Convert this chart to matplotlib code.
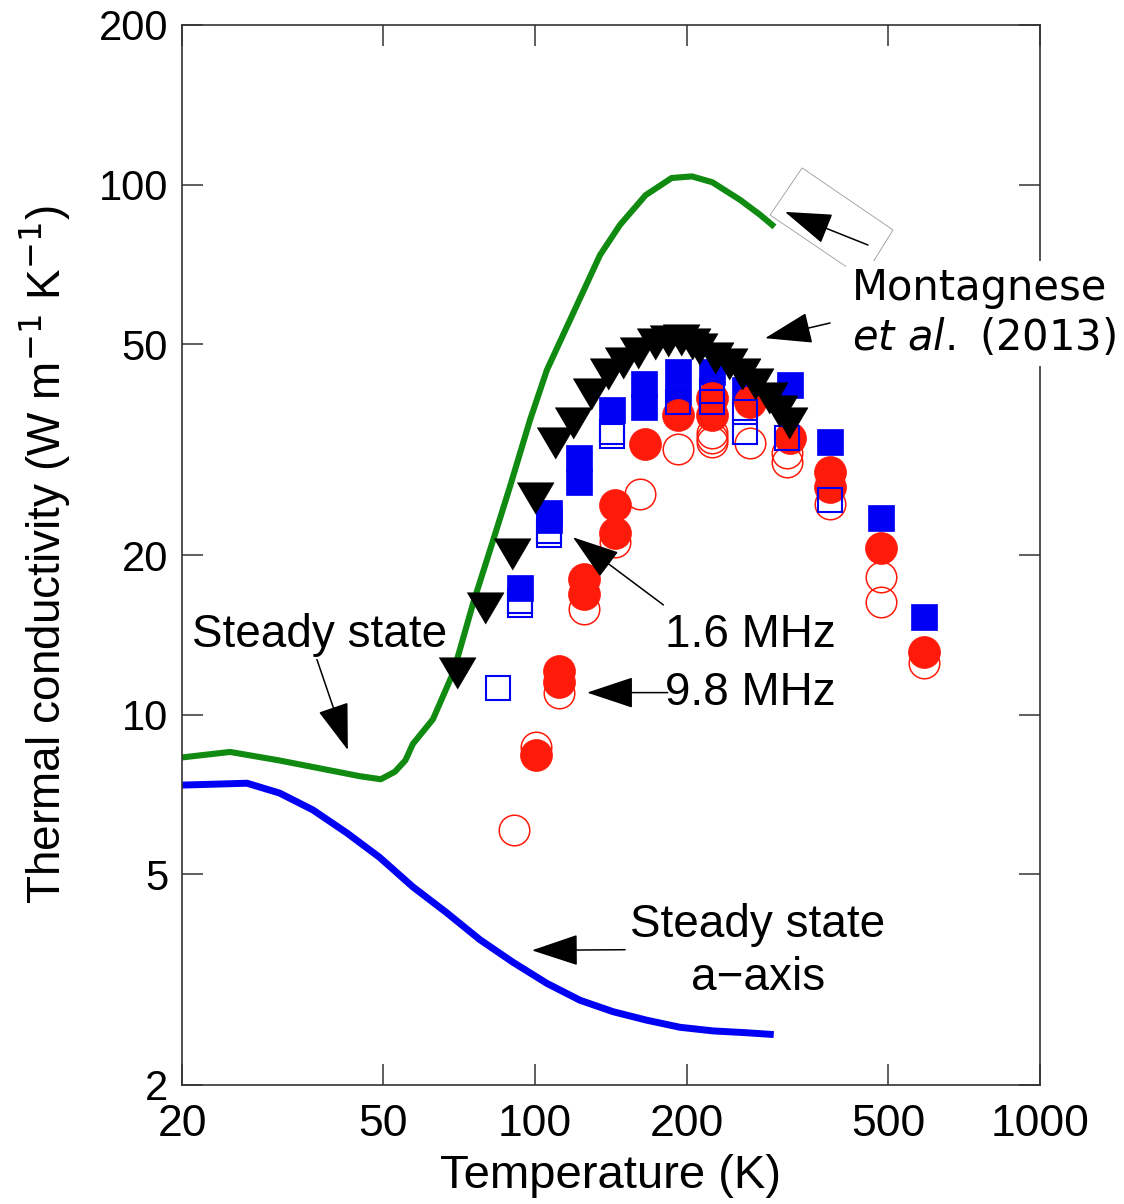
import matplotlib
matplotlib.use("Agg")
import matplotlib.pyplot as plt
from matplotlib.patches import Polygon
from matplotlib.ticker import FixedLocator, NullLocator, FixedFormatter

plt.rcParams["font.family"] = ["Liberation Sans", "DejaVu Sans"]

# ---------------------------------------------------------------
# DATA
# ---------------------------------------------------------------
# steady state, c-axis (green)
T_c = [20, 24.9, 31, 39.2, 45, 49.5, 52.8, 55.4, 57.3, 62.8, 68.9, 75.4, 82.6,
       89.2, 97.8, 105.6, 117.3, 134.5, 147.3, 165.6, 186.5, 204.6, 224.5, 255,
       279, 298]
k_c = [8.3, 8.5, 8.2, 7.85, 7.65, 7.55, 7.8, 8.2, 8.8, 9.8, 12.0, 16.2, 21.3,
       26.9, 36.0, 44.7, 55.5, 73.6, 83.9, 95.5, 102.9, 103.6, 101, 93.5,
       87.7, 83.2]

# steady state, a-axis (blue)
T_a = [20, 26.9, 31.2, 36.3, 42.4, 49.2, 57.3, 66.8, 77.8, 90.4, 105.6, 122.8,
       142.8, 166.5, 193.7, 225, 262, 297]
k_a = [7.36, 7.42, 7.11, 6.61, 5.98, 5.38, 4.73, 4.23, 3.76, 3.41, 3.11, 2.89,
       2.75, 2.65, 2.57, 2.53, 2.51, 2.49]

# Montagnese et al. (2013)
T_m = [70.0, 79.6, 90.1, 100, 109.5, 119, 129, 139.5, 149.5, 160.2, 172.9, 183.7,
       194.6, 204.6, 211.3, 227.2, 242.2, 257, 272.7, 290.7, 304.3, 318.5]
k_m = [12.0, 15.9, 20.1, 25.6, 32.5, 35.5, 40.3, 43.9, 46.0, 48.1, 50.0, 50.6,
       50.9, 50.0, 49.0, 47.0, 45.8, 43.9, 42.0, 39.5, 37.4, 35.5]

# 1.6 MHz, filled squares
T_bf = [93.4, 106.6, 106.6, 122.2, 122.2, 142, 164.4, 164.4, 191.9, 191.9,
        224.2, 260.6, 320, 384, 484, 589]
k_bf = [17.3, 24.0, 23.3, 30.5, 27.5, 37.6, 42.0, 38.0, 44.3, 39.6,
        44.3, 41.0, 41.9, 32.7, 23.5, 15.3]

# 1.6 MHz, open squares
T_bo = [84.5, 93.4, 93.4, 106.6, 106.6, 142, 142, 191.9, 224.2, 224.2,
        260.6, 260.6, 315, 384]
k_bo = [11.2, 16.4, 16.1, 22.2, 21.8, 34.2, 33.6, 38.8, 40.7, 38.8,
        37.3, 34.2, 33.3, 25.4]

# 9.8 MHz, filled circles
T_rf = [100.4, 111.6, 111.6, 125, 125, 143.9, 143.9, 165.2, 191.9, 224.5,
        224.5, 266.6, 320, 384, 384, 484, 589]
k_rf = [8.4, 12.1, 11.5, 18.0, 16.9, 24.9, 22.0, 32.4, 36.7, 39.6,
        36.7, 38.8, 33.2, 28.7, 26.9, 20.6, 13.1]

# 9.8 MHz, open circles
T_ro = [90.9, 100.4, 111.6, 125, 143.9, 161.4, 191.9, 224.5, 224.5, 224.5,
        266.6, 315, 315, 384, 484, 484, 589]
k_ro = [6.06, 8.7, 11.0, 15.8, 21.2, 26.1, 31.7, 34.0, 33.3, 32.7,
        32.5, 31.1, 29.9, 25.0, 18.2, 16.3, 12.5]

X_TICKS = [20, 50, 100, 200, 500, 1000]
Y_TICKS = [2, 5, 10, 20, 50, 100, 200]

GREEN = "#108a10"
BLUE = "#0000f5"
RED = "#ff1a0a"

# ---------------------------------------------------------------
# FIGURE
# ---------------------------------------------------------------
W, H = 1124, 1204
fig = plt.figure(figsize=(W / 100, H / 100), dpi=100)
ax = fig.add_axes([182 / W, 1 - 1085 / H, (1040 - 182) / W, (1085 - 25) / H])
ax.set_xscale("log")
ax.set_yscale("log")
ax.set_xlim(20, 1000)
ax.set_ylim(2, 200)

ax.plot(T_c, k_c, color=GREEN, lw=4.4, solid_capstyle="butt",
        solid_joinstyle="round", zorder=2)
ax.plot(T_a, k_a, color=BLUE, lw=5.0, solid_capstyle="butt",
        solid_joinstyle="round", zorder=2)

ax.plot(T_bf, k_bf, "s", ms=19, mfc=BLUE, mec=BLUE, mew=0.5, ls="none", zorder=3)
ax.plot(T_rf, k_rf, "o", ms=23, mfc=RED, mec=RED, mew=0.5, ls="none", zorder=4)
ax.plot(T_ro, k_ro, "o", ms=22, mfc="none", mec=RED, mew=1.1, ls="none", zorder=5)
ax.plot(T_bo, k_bo, "s", ms=17, mfc="none", mec=BLUE, mew=1.5, ls="none", zorder=6)

tri = [(-1, 0.85), (1, 0.85), (0, -0.85)]
ax.plot(T_m, k_m, marker=tri, ms=26.5, mfc="black", mec="black", mew=0.5,
        ls="none", zorder=7)

# axes styling
ax.xaxis.set_major_locator(FixedLocator(X_TICKS))
ax.xaxis.set_major_formatter(FixedFormatter([str(v) for v in X_TICKS]))
ax.yaxis.set_major_locator(FixedLocator(Y_TICKS))
ax.yaxis.set_major_formatter(FixedFormatter([str(v) for v in Y_TICKS]))
ax.xaxis.set_minor_locator(NullLocator())
ax.yaxis.set_minor_locator(NullLocator())
ax.tick_params(axis="both", which="major", direction="in", length=15, width=1.1,
               color="#333333", top=True, right=True)
ax.tick_params(axis="x", labelsize=32, pad=14)
ax.tick_params(axis="y", labelsize=30, pad=10)
for sp in ax.spines.values():
    sp.set_linewidth(1.2)
    sp.set_color("#333333")

ax.set_xlabel("Temperature (K)", fontsize=34, labelpad=6)
ax.set_ylabel("Thermal conductivity (W m$^{-1}$ K$^{-1}$)", fontsize=33)
ax.yaxis.set_label_coords(-0.127, 0.5)

# ---------------------------------------------------------------
# ANNOTATIONS
# ---------------------------------------------------------------
arrow = dict(arrowstyle="-|>,head_length=1.5,head_width=0.5", mutation_scale=20,
             lw=1.1, color="black", shrinkA=0, shrinkB=0)

ax.text(37.5, 14.1, "Steady state", fontsize=33, ha="center", va="center", zorder=9)
ax.annotate("", xy=(42.6, 8.57), xytext=(37.0, 12.7), arrowprops=arrow, zorder=9)

ax.text(180.9, 14.1, "1.6 MHz", fontsize=33, ha="left", va="center", zorder=9)
ax.annotate("", xy=(118.9, 21.6), xytext=(179.6, 16.1), arrowprops=arrow, zorder=9)

ax.text(180.9, 11.0, "9.8 MHz", fontsize=33, ha="left", va="center", zorder=9)
ax.annotate("", xy=(126.8, 11.0), xytext=(183.2, 11.0), arrowprops=arrow, zorder=9)

ax.text(276.4, 4.01, "Steady state", fontsize=33, ha="center", va="center", zorder=9)
ax.text(276.4, 3.18, "a\u2212axis", fontsize=33, ha="center", va="center", zorder=9)
ax.annotate("", xy=(98.6, 3.59), xytext=(150.8, 3.6), arrowprops=arrow, zorder=9)

# pasted box around the upper Montagnese arrow
box = Polygon([(338, 107.5), (511.6, 82.1), (446.3, 66.6), (292.1, 87.6)],
              closed=True, fc="white", ec="#9a9a9a", lw=0.6, zorder=8, clip_on=False)
ax.add_patch(box)
ax.annotate("", xy=(312.6, 88.8), xytext=(456.4, 76.9), arrowprops=arrow,
            zorder=9, annotation_clip=False)
ax.annotate("", xy=(285.5, 51.3), xytext=(384, 54.8), arrowprops=arrow, zorder=9)

ax.text(424.4, 57.2, "Montagnese\n$\\it{et\\ al.}$ (2013)", family="DejaVu Sans",
        fontsize=30, ha="left", va="center", linespacing=1.25, zorder=10,
        clip_on=False, bbox=dict(boxstyle="square,pad=0.15", fc="white", ec="none"))

fig.savefig("out.png", dpi=100)
